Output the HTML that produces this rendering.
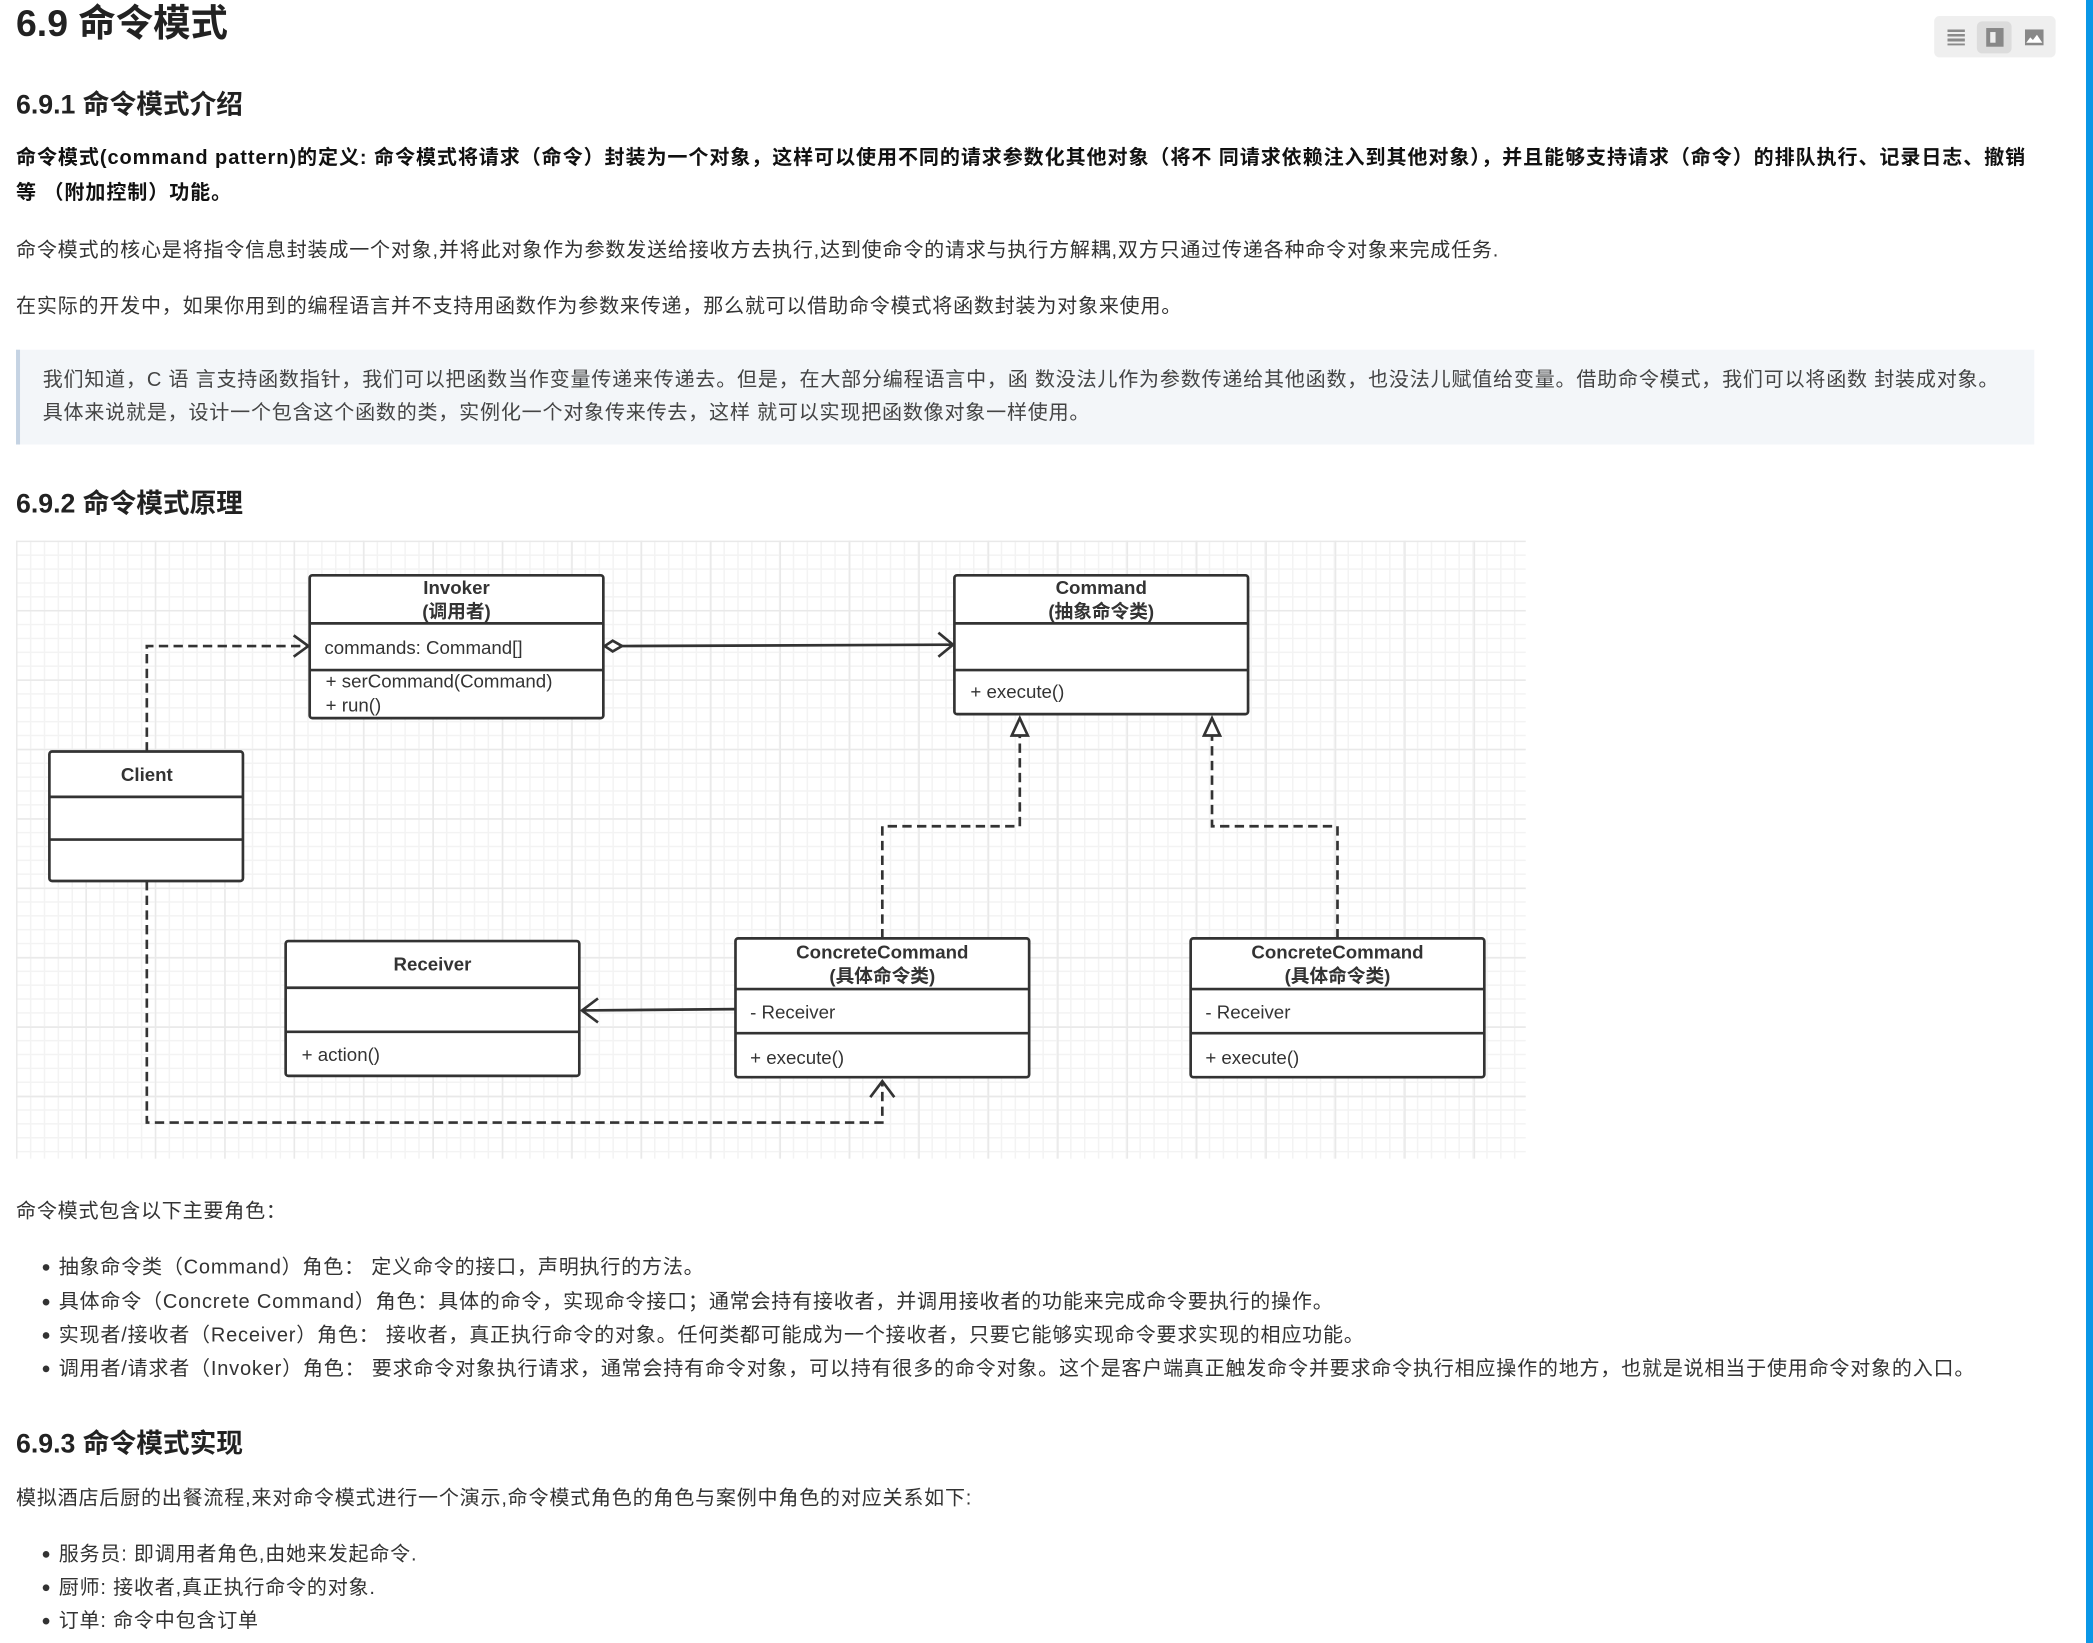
<!DOCTYPE html>
<html><head><meta charset="utf-8"><style>
html,body{margin:0;padding:0;background:#fff;overflow:hidden}
body{width:2093px;height:1643px;position:relative}
#w{position:absolute;left:0;top:0;width:1568px;height:1231px;transform:scale(1.33482);transform-origin:0 0;font-family:"Liberation Sans","Noto Sans CJK SC",sans-serif;color:#333}
.t{position:absolute;white-space:nowrap;line-height:1}
.h{font-weight:bold;color:#222}
.p{font-size:15px;letter-spacing:0.6px}
#blue{position:absolute;left:2086px;top:0;width:7px;height:1643px;background:#0a97e6}
.li:before{content:"";position:absolute;left:-12px;top:5px;width:5px;height:5px;border-radius:50%;background:#333}
</style></head><body>
<div id="w">
<div class="t h" style="left:12px;top:4px;font-size:28px">6.9 命令模式</div>
<div style="position:absolute;left:1449px;top:12px;width:91px;height:31px;background:#efefef;border-radius:4px"></div>
<div style="position:absolute;left:1481px;top:16px;width:26px;height:24px;background:#dcdcdc;border-radius:4px"></div>
<div style="position:absolute;left:1459px;top:22px;width:13px;height:12px;background:repeating-linear-gradient(#8a8a8a 0 2px,transparent 2px 3.5px)"></div>
<div style="position:absolute;left:1488px;top:21px;width:13px;height:14px;background:#888"><div style="position:absolute;left:3px;top:3px;width:4px;height:8px;background:#eee"></div></div>
<svg style="position:absolute;left:1517px;top:22px" width="14" height="12"><rect width="14" height="12" fill="#888"/><path d="M1 10L4 6L6 8L9 4L13 10Z" fill="#fff"/></svg>
<div class="t h" style="left:12px;top:69px;font-size:20px">6.9.1 命令模式介绍</div>
<div class="t h p" style="left:12px;top:111px;color:#111;letter-spacing:0.7px">命令模式(command pattern)的定义: 命令模式将请求（命令）封装为一个对象，这样可以使用不同的请求参数化其他对象（将不 同请求依赖注入到其他对象），并且能够支持请求（命令）的排队执行、记录日志、撤销</div>
<div class="t h p" style="left:12px;top:137px;color:#111;letter-spacing:0.7px">等 （附加控制）功能。</div>
<div class="t p" style="left:12px;top:180px">命令模式的核心是将指令信息封装成一个对象,并将此对象作为参数发送给接收方去执行,达到使命令的请求与执行方解耦,双方只通过传递各种命令对象来完成任务.</div>
<div class="t p" style="left:12px;top:222px">在实际的开发中，如果你用到的编程语言并不支持用函数作为参数来传递，那么就可以借助命令模式将函数封装为对象来使用。</div>
<div style="position:absolute;left:12px;top:262px;width:1512px;height:71px;background:#f3f6f9;border-left:3px solid #c5d3e3;box-sizing:border-box"></div>
<div class="t p" style="left:32px;top:277px;color:#444">我们知道，C 语 言支持函数指针，我们可以把函数当作变量传递来传递去。但是，在大部分编程语言中，函 数没法儿作为参数传递给其他函数，也没法儿赋值给变量。借助命令模式，我们可以将函数 封装成对象。</div>
<div class="t p" style="left:32px;top:302px;color:#444">具体来说就是，设计一个包含这个函数的类，实例化一个对象传来传去，这样 就可以实现把函数像对象一样使用。</div>
<div class="t h" style="left:12px;top:368px;font-size:20px">6.9.2 命令模式原理</div>
<div style="position:absolute;left:12px;top:405px;width:1131px;height:463px;background-color:#fff;background-image:linear-gradient(90deg,#e9e9e9 1px,transparent 1px),linear-gradient(#e9e9e9 1px,transparent 1px),linear-gradient(90deg,#f3f3f3 1px,transparent 1px),linear-gradient(#f3f3f3 1px,transparent 1px);background-size:52px 52px,52px 52px,10.4px 10.4px,10.4px 10.4px"></div>
<svg style="position:absolute;left:0;top:0" width="1568" height="1231" font-family="Liberation Sans, Noto Sans CJK SC, sans-serif" font-size="14" fill="#333">
<g fill="#fff" stroke="#333" stroke-width="2">
<rect x="232" y="431" width="220" height="107" rx="2"/><line x1="232" y1="467" x2="452" y2="467"/><line x1="232" y1="502" x2="452" y2="502"/>
<rect x="715" y="431" width="220" height="104" rx="2"/><line x1="715" y1="467" x2="935" y2="467"/><line x1="715" y1="502" x2="935" y2="502"/>
<rect x="37" y="563" width="145" height="97" rx="2"/><line x1="37" y1="597" x2="182" y2="597"/><line x1="37" y1="629" x2="182" y2="629"/>
<rect x="214" y="705" width="220" height="101" rx="2"/><line x1="214" y1="740" x2="434" y2="740"/><line x1="214" y1="773" x2="434" y2="773"/>
<rect x="551" y="703" width="220" height="104" rx="2"/><line x1="551" y1="741" x2="771" y2="741"/><line x1="551" y1="774" x2="771" y2="774"/>
<rect x="892" y="703" width="220" height="104" rx="2"/><line x1="892" y1="741" x2="1112" y2="741"/><line x1="892" y1="774" x2="1112" y2="774"/>
</g>
<g fill="none" stroke="#333" stroke-width="2">
<path d="M110 563V484H230" stroke-dasharray="7 4"/><path d="M220 476L231 484L220 492"/>
<path d="M466 484L713 483"/><path d="M453 484L459 480L466 484L459 488Z" fill="#fff"/><path d="M703 474L714 483L703 492"/>
<path d="M661 703V619H764V550" stroke-dasharray="7 4"/><path d="M758 551L764 538L770 551Z" fill="#fff"/>
<path d="M1002 703V619H908V550" stroke-dasharray="7 4"/><path d="M902 551L908 538L914 551Z" fill="#fff"/>
<path d="M551 756L436 757"/><path d="M448 748L436 757L448 766"/>
<path d="M110 660V841H661V810" stroke-dasharray="7 4"/><path d="M652 822L661 810L670 822"/>
</g>
<g font-weight="bold" text-anchor="middle" font-size="14">
<text x="342" y="445">Invoker</text><text x="342" y="463">(调用者)</text>
<text x="825" y="445">Command</text><text x="825" y="463">(抽象命令类)</text>
<text x="110" y="585">Client</text>
<text x="324" y="727">Receiver</text>
<text x="661" y="718">ConcreteCommand</text><text x="661" y="736">(具体命令类)</text>
<text x="1002" y="718">ConcreteCommand</text><text x="1002" y="736">(具体命令类)</text>
</g>
<text x="243" y="490">commands: Command[]</text>
<text x="244" y="515">+ serCommand(Command)</text><text x="244" y="533">+ run()</text>
<text x="727" y="523">+ execute()</text>
<text x="226" y="795">+ action()</text>
<text x="562" y="763">- Receiver</text><text x="562" y="797">+ execute()</text>
<text x="903" y="763">- Receiver</text><text x="903" y="797">+ execute()</text>
</svg>
<div class="t p" style="left:12px;top:900px">命令模式包含以下主要角色：</div>
<div class="t p li" style="left:44px;top:942px">抽象命令类（Command）角色： 定义命令的接口，声明执行的方法。</div>
<div class="t p li" style="left:44px;top:968px">具体命令（Concrete Command）角色：具体的命令，实现命令接口；通常会持有接收者，并调用接收者的功能来完成命令要执行的操作。</div>
<div class="t p li" style="left:44px;top:993px">实现者/接收者（Receiver）角色： 接收者，真正执行命令的对象。任何类都可能成为一个接收者，只要它能够实现命令要求实现的相应功能。</div>
<div class="t p li" style="left:44px;top:1018px">调用者/请求者（Invoker）角色： 要求命令对象执行请求，通常会持有命令对象，可以持有很多的命令对象。这个是客户端真正触发命令并要求命令执行相应操作的地方，也就是说相当于使用命令对象的入口。</div>
<div class="t h" style="left:12px;top:1072px;font-size:20px">6.9.3 命令模式实现</div>
<div class="t p" style="left:12px;top:1115px">模拟酒店后厨的出餐流程,来对命令模式进行一个演示,命令模式角色的角色与案例中角色的对应关系如下:</div>
<div class="t p li" style="left:44px;top:1157px">服务员: 即调用者角色,由她来发起命令.</div>
<div class="t p li" style="left:44px;top:1182px">厨师: 接收者,真正执行命令的对象.</div>
<div class="t p li" style="left:44px;top:1207px">订单: 命令中包含订单</div>
</div>
<div id="blue"></div>
</body></html>
